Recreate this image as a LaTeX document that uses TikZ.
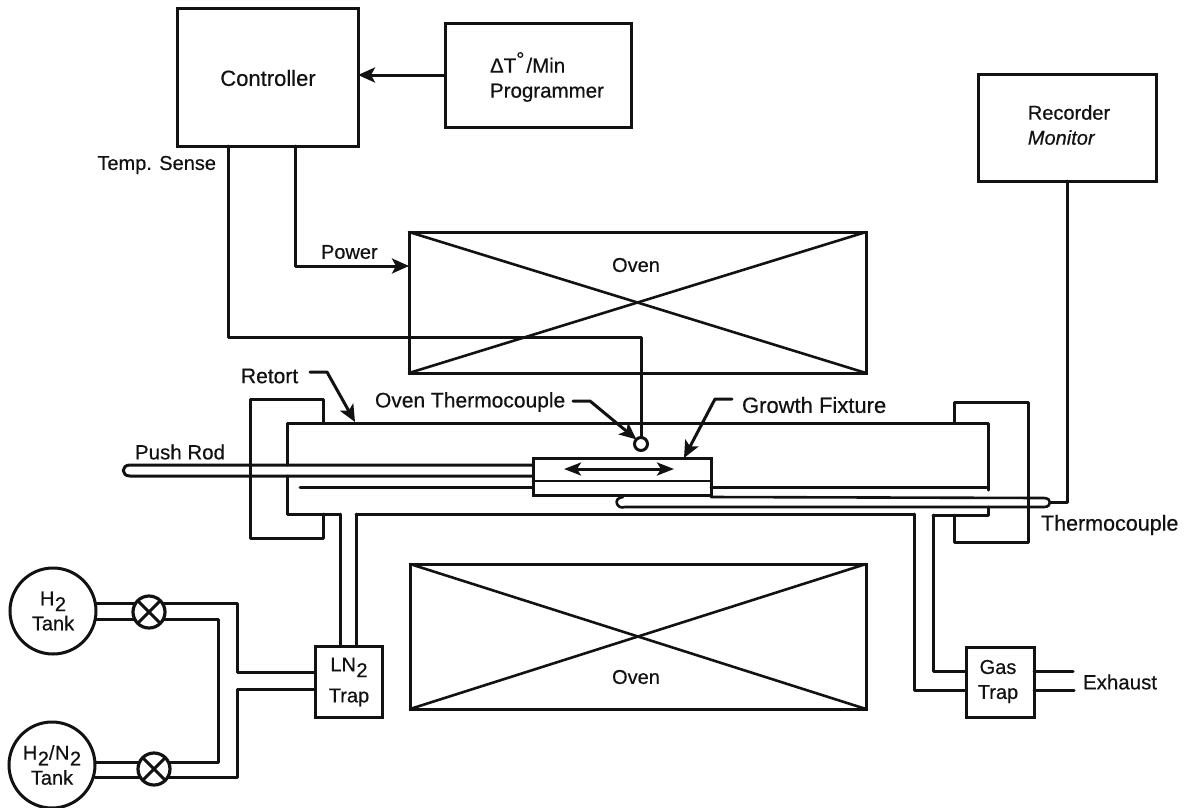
\documentclass[tikz,border=0pt]{standalone}
\usepackage{fontspec}
\setmainfont{Liberation Sans}[FakeBold=0.5]
\usetikzlibrary{arrows.meta}
\newcommand{\subtwo}{\kern0.5pt\raisebox{-0.55ex}{2}}
\newcommand{\fsz}[1]{\fontsize{#1}{#1}\selectfont}
\definecolor{ink}{gray}{0.07}
\tikzset{
  ln/.style={line width=3pt,line join=round,line cap=round,ink},
  thin ln/.style={line width=2.6pt,line join=round,line cap=round,ink},
  arr/.style={ln,-{Stealth[length=17pt,width=15pt,inset=4pt]}},
  boxn/.style={draw=ink,line width=3pt,rectangle,inner sep=0pt,outer sep=0pt,align=center,fill=none},
  tankn/.style={draw=ink,line width=3pt,circle,inner sep=0pt,outer sep=0pt,align=center,minimum size=86pt},
  valven/.style={draw=ink,line width=3.2pt,circle,inner sep=0pt,outer sep=0pt,minimum size=32pt},
  txt/.style={inner sep=0pt,outer sep=0pt,align=center,text=ink}
}
\begin{document}
\begin{tikzpicture}[x=1pt,y=-1pt,font=\fontsize{20}{25}\selectfont,text=ink]
\useasboundingbox (0,0) rectangle (1191,807);
% boxes
\node[boxn,minimum width=181pt,minimum height=138pt] (controller) at (267.5,77) {};
\node[txt,font=\fsz{22}] (context) at (268,78) {Controller};
\node[boxn,minimum width=186pt,minimum height=104pt] (programmer) at (538,75) {};
\node[txt,align=left,font=\fontsize{20.5}{25}\selectfont] (progtext) at (547,77) {ΔT\raisebox{0.3em}{°}\kern2pt/Min\\Programmer};
\node[boxn,minimum width=178pt,minimum height=107pt] (recorder) at (1067,127.5) {};
\node[txt,align=left,font=\fontsize{20}{25}\selectfont] (rectext) at (1069,125) {Recorder\\\itshape Monitor};
\node[boxn,minimum width=457pt,minimum height=141pt] (ovenA) at (637.5,302.5) {};
\node[boxn,minimum width=456pt,minimum height=145pt] (ovenB) at (638,636.5) {};
\node[txt] (ovenAt) at (636,265) {Oven};
\node[txt] (ovenBt) at (636,677) {Oven};
\draw[thin ln] (ovenA.north west) -- (ovenA.south east);
\draw[thin ln] (ovenA.south west) -- (ovenA.north east);
\draw[thin ln] (ovenB.north west) -- (ovenB.south east);
\draw[thin ln] (ovenB.south west) -- (ovenB.north east);
% controller links
\draw[arr] (programmer.west) -- (controller.east |- programmer.west);
\coordinate (pw) at (295,146);
\coordinate (pe) at (409,266);
\draw[arr] (pw) |- (pe);
\node[txt,anchor=west,font=\fsz{20}] (powert) at (321,252) {Power};
\node[txt,anchor=east,font=\fsz{20}] (senset) at (216,165) {Temp. Sense};
\node[draw=ink,line width=3pt,circle,inner sep=0pt,outer sep=0pt,minimum size=13pt] (oventc) at (641,444) {};
\coordinate (ts) at (228,146);
\coordinate (tsm) at (228,337);
\draw[ln] (ts) -- (tsm) -| (oventc.north);
% retort outline
\coordinate (rtl) at (287,423);
\coordinate (rtr) at (988,423);
\draw[ln] (287,465) -- (rtl) -- (rtr) -- (988,490);
\draw[ln] (287,476) -- (287,514) -- (340,514);
\draw[ln] (988,507) -- (988,515) -- (933,515);
\draw[ln] (356,514) -- (914,514);
% flanges
\draw[ln] (323,423) -- (323,399) -- (250,399) -- (250,538) -- (323,538) -- (323,514);
\draw[ln] (954,423) -- (954,402) -- (1028,402) -- (1028,542) -- (954,542) -- (954,515);
% fixture
\node[boxn,minimum width=178pt,minimum height=37pt] (fixture) at (622,476.5) {};
\coordinate (fxl) at (533,481);
\coordinate (fxr) at (711,481);
\draw[thin ln] (fxl) -- (fxr);
\coordinate (dal) at (564,469);
\coordinate (dar) at (674,469);
\draw[ln,{Stealth[length=17pt,width=13pt,inset=4pt]}-{Stealth[length=17pt,width=13pt,inset=4pt]}] (dal) -- (dar);
% push rod
\coordinate (prt) at (533,465);
\coordinate (prb) at (533,476);
\draw[ln] (prt) -- (130,465) .. controls (121,465) and (121,476) .. (130,476) -- (prb);
\coordinate (rodl) at (300,487);
\draw[ln] (rodl) -- (533,487);
% thermocouple tube
\draw[ln] (711,487) -- (988,487);
\draw[thin ln] (711,497) -- (1044,498) .. controls (1052,498) and (1052,507) .. (1044,507) -- (625,507) .. controls (617,510) and (612,498) .. (623,497);
\node[txt,anchor=west,font=\fsz{21.5}] (tct) at (1041,525) {Thermocouple};
\coordinate (tcj) at (1050,502);
\draw[ln] (tcj) -| (recorder.south);
% traps
\node[boxn,minimum width=67pt,minimum height=71pt] (lntrap) at (348.5,681.5) {};
\node[txt,font=\fontsize{20}{26}\selectfont] (lntext) at (349,682) {LN\subtwo\\[5pt]Trap};
\node[boxn,minimum width=68pt,minimum height=70pt] (gastrap) at (1000,682) {};
\node[txt,font=\fontsize{20}{25}\selectfont] (gastext) at (998,681.5) {Gas\\Trap};
\coordinate (lpa) at (340,514);\coordinate (lpb) at (340,646);
\coordinate (lpc) at (356,514);\coordinate (lpd) at (356,646);
\draw[ln] (lpa) -- (lpb);
\draw[ln] (lpc) -- (lpd);
\coordinate (gpa) at (914,514);\coordinate (gpb) at (966,690);
\coordinate (gpc) at (933,515);\coordinate (gpd) at (966,671);
\draw[ln] (gpa) |- (gpb);
\draw[ln] (gpc) |- (gpd);
\coordinate (exa) at (1034,671);\coordinate (exb) at (1073,671);
\coordinate (exc) at (1034,690);\coordinate (exd) at (1074,690);
\draw[ln] (exa) -- (exb);
\draw[ln] (exc) -- (exd);
\node[txt,anchor=west,font=\fsz{20.5}] (exht) at (1083,682) {Exhaust};
% tanks
\node[tankn,font=\fontsize{20}{26}\selectfont] (tankA) at (53,611) {\raisebox{-2pt}{H\subtwo}\\[-1pt]\raisebox{-2pt}{Tank}};
\node[tankn,font=\fontsize{20}{26}\selectfont] (tankB) at (52,765) {\raisebox{-1pt}{H\subtwo/\kern0.5pt N\subtwo}\\[-2pt]\raisebox{-2pt}{Tank}};
\node[valven] (valveA) at (149,612) {};
\node[valven] (valveB) at (154,769) {};
\draw[line width=3pt,ink] (valveA.north west) -- (valveA.south east);
\draw[line width=3pt,ink] (valveA.south west) -- (valveA.north east);
\draw[line width=3pt,ink] (valveB.north west) -- (valveB.south east);
\draw[line width=3pt,ink] (valveB.south west) -- (valveB.north east);
\coordinate (a1) at (96,603);\coordinate (a2) at (135,603);
\coordinate (a3) at (96,619);\coordinate (a4) at (135,619);
\draw[ln] (a1) -- (a2);
\draw[ln] (a3) -- (a4);
\coordinate (b1) at (95,762);\coordinate (b2) at (139,762);
\coordinate (b3) at (95,777);\coordinate (b4) at (139,777);
\draw[ln] (b1) -- (b2);
\draw[ln] (b3) -- (b4);
\coordinate (c1) at (164,603);\coordinate (c2) at (315,672);
\draw[ln] (c1) -- (237,603) |- (c2);
\coordinate (c3) at (164,619);\coordinate (c4) at (169,762);
\draw[ln] (c3) -- (218,619) |- (c4);
\coordinate (c5) at (169,777);\coordinate (c6) at (315,689);
\draw[ln] (c5) -- (237,777) |- (c6);
% leaders
\node[txt,anchor=west,font=\fsz{21}] (rett) at (241,376) {Retort};
\coordinate (ra) at (310,372);\coordinate (rb) at (327,372);\coordinate (rc) at (355,422);
\draw[arr] (ra) -- (rb) -- (rc);
\node[txt,anchor=west,font=\fsz{21}] (otct) at (375,402) {Oven Thermocouple};
\coordinate (oa) at (573,401);\coordinate (ob) at (590,401);
\draw[arr] (oa) -- (ob) -- (oventc.north west);
\node[txt,anchor=west,font=\fsz{22}] (gft) at (742,405) {Growth Fixture};
\coordinate (ga) at (732,399);\coordinate (gb) at (715,399);\coordinate (gc) at (684,458);
\draw[arr] (ga) -- (gb) -- (gc);
\node[txt,anchor=west,font=\fsz{20.5}] (pushrt) at (135,452) {Push Rod};
\end{tikzpicture}
\end{document}
